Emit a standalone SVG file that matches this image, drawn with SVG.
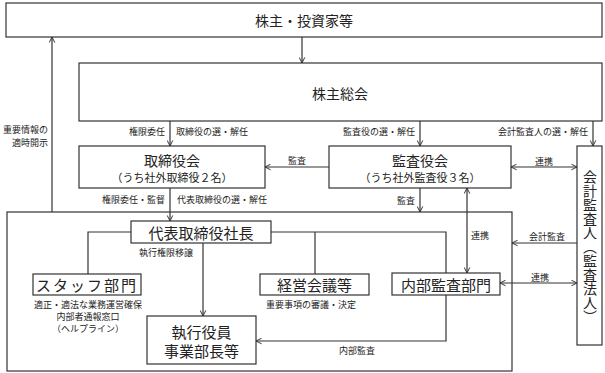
<svg xmlns="http://www.w3.org/2000/svg" width="605" height="373" viewBox="0 0 605 373">
<style>
text{font-family:"Noto Sans CJK JP","Noto Sans CJK SC",sans-serif;fill:#222;}
.box{fill:#fff;stroke:#333;stroke-width:1.2;}
.ln{fill:none;stroke:#333;stroke-width:1.2;}
.t14{font-size:14px;text-anchor:middle;dominant-baseline:central;}
.t11{font-size:11px;text-anchor:middle;dominant-baseline:central;}
.s{font-size:9px;dominant-baseline:central;}
.m{text-anchor:middle;}
.e{text-anchor:end;}
</style>
<defs>
<marker id="ah" viewBox="0 0 10 10" refX="9" refY="5" markerWidth="7" markerHeight="7" orient="auto-start-reverse" markerUnits="userSpaceOnUse">
<path d="M1,1 L9,5 L1,9" fill="none" stroke="#333" stroke-width="1.4"/>
</marker>
</defs>
<rect x="0" y="0" width="605" height="373" fill="#fff"/>

<g id="shareholders"><rect class="box" x="6" y="3" width="596" height="34"/><text class="t14" x="304" y="20">株主・投資家等</text></g>
<g id="agm"><rect class="box" x="79" y="63" width="523" height="58"/><text class="t14" x="340" y="93">株主総会</text></g>
<g id="board"><rect class="box" x="79" y="146" width="186" height="42"/><text class="t14" x="172" y="160">取締役会</text><text class="t11" x="172" y="177">（うち社外取締役２名）</text></g>
<g id="kansayaku"><rect class="box" x="329" y="146" width="182" height="42"/><text class="t14" x="420" y="160">監査役会</text><text class="t11" x="420" y="177">（うち社外監査役３名）</text></g>
<g id="auditor"><rect class="box" x="577" y="146" width="25" height="199"/><text x="590" y="170" style="font-size:14px;writing-mode:vertical-rl;">会計監査人（監査法人）</text></g>
<g id="frame"><rect class="ln" x="7" y="212" width="505" height="159"/></g>
<g id="president"><rect class="box" x="131" y="221" width="140" height="22"/><text class="t14" x="201" y="232" style="font-size:15px">代表取締役社長</text></g>
<g id="staff"><rect class="box" x="33" y="274" width="108" height="21"/><text class="t14" x="87" y="284.5" style="font-size:15px;letter-spacing:2px">スタッフ部門</text>
<text class="s m" x="88" y="304">適正・適法な業務運営確保</text><text class="s m" x="88" y="316">内部者通報窓口</text><text class="s m" x="88" y="328">（ヘルプライン）</text></g>
<g id="keiei"><rect class="box" x="260" y="274" width="109" height="21"/><text class="t14" x="314.5" y="284.5" style="font-size:15px">経営会議等</text><text class="s m" x="311" y="304">重要事項の審議・決定</text></g>
<g id="internal"><rect class="box" x="392" y="273" width="108" height="22"/><text class="t14" x="446" y="284" style="font-size:15px">内部監査部門</text></g>
<g id="exec"><rect class="box" x="147" y="316" width="109" height="48"/><text class="t14" x="201.5" y="331" style="font-size:15px">執行役員</text><text class="t14" x="201.5" y="350" style="font-size:15px">事業部長等</text></g>

<g id="connectors">
<line class="ln" x1="302" y1="37" x2="302" y2="63" marker-end="url(#ah)"/>
<line class="ln" x1="52" y1="212" x2="52" y2="37" marker-end="url(#ah)"/>
<line class="ln" x1="170" y1="121" x2="170" y2="146" marker-end="url(#ah)"/>
<line class="ln" x1="420" y1="121" x2="420" y2="146" marker-end="url(#ah)"/>
<line class="ln" x1="593" y1="121" x2="593" y2="146" marker-end="url(#ah)"/>
<line class="ln" x1="329" y1="167" x2="265" y2="167" marker-end="url(#ah)"/>
<line class="ln" x1="511" y1="167" x2="577" y2="167" marker-start="url(#ah)" marker-end="url(#ah)"/>
<line class="ln" x1="170" y1="188" x2="170" y2="221" marker-end="url(#ah)"/>
<line class="ln" x1="420" y1="188" x2="420" y2="212" marker-end="url(#ah)"/>
<line class="ln" x1="467" y1="188" x2="467" y2="273" marker-start="url(#ah)" marker-end="url(#ah)"/>
<line class="ln" x1="577" y1="243" x2="512" y2="243" marker-end="url(#ah)"/>
<line class="ln" x1="500" y1="283" x2="577" y2="283" marker-start="url(#ah)" marker-end="url(#ah)"/>
<polyline class="ln" points="131,232 88,232 88,274"/>
<polyline class="ln" points="271,232 446,232 446,273"/>
<line class="ln" x1="315" y1="232" x2="315" y2="274"/>
<line class="ln" x1="203" y1="243" x2="203" y2="316" marker-end="url(#ah)"/>
<polyline class="ln" points="446,295 446,341 256,341" marker-end="url(#ah)"/>
<text class="s e" x="48" y="129">重要情報の</text>
<text class="s e" x="48" y="142">適時開示</text>
<text class="s e" x="165" y="131">権限委任</text>
<text class="s" x="176" y="131">取締役の選・解任</text>
<text class="s e" x="415" y="131">監査役の選・解任</text>
<text class="s e" x="588" y="131">会計監査人の選・解任</text>
<text class="s m" x="297" y="160">監査</text>
<text class="s m" x="544" y="161">連携</text>
<text class="s e" x="165" y="199">権限委任・監督</text>
<text class="s" x="177" y="199">代表取締役の選・解任</text>
<text class="s e" x="415" y="200">監査</text>
<text class="s m" x="480" y="235">連携</text>
<text class="s m" x="547" y="236">会計監査</text>
<text class="s m" x="166" y="252">執行権限移譲</text>
<text class="s m" x="540" y="277">連携</text>
<text class="s m" x="357" y="350">内部監査</text>
</g>
</svg>
